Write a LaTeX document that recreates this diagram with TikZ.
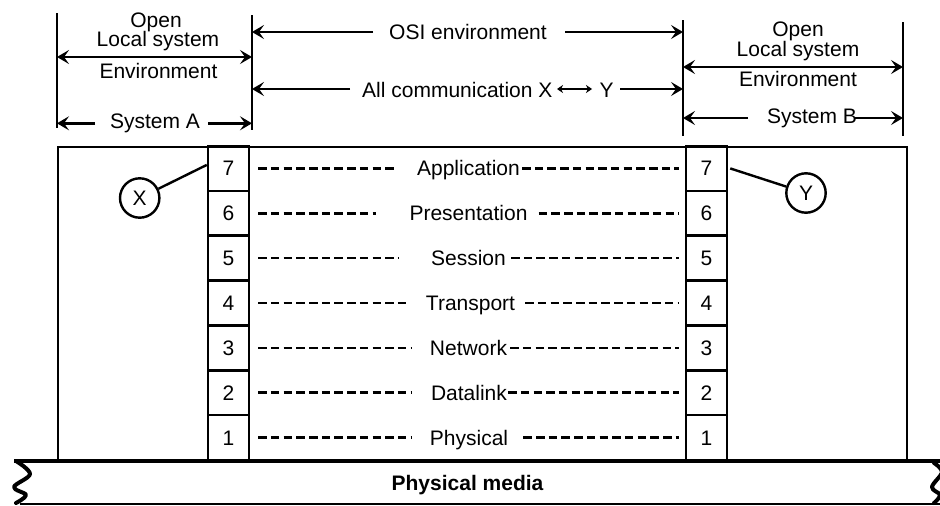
\documentclass[tikz,border=0pt]{standalone}
\usepackage{fontspec}
\setmainfont{Liberation Sans}
\usetikzlibrary{arrows.meta}
\newcommand\myfs{\fontsize{21}{24}\selectfont}
\begin{document}
\begin{tikzpicture}[x=1pt,y=-1pt,font=\myfs,
  >={Stealth[length=12pt,width=14pt,inset=5pt]},
  txt/.style={inner sep=0pt, anchor=base},
  extline/.style={line width=2.6pt},
  dimline/.style={line width=2.4pt},
  cell/.style={draw, line width=2.5pt, minimum width=41pt, minimum height=44.86pt, inner sep=0pt, text height=15pt, text depth=0pt},
  rowlbl/.style={inner sep=0pt, text height=15pt, text depth=0pt},
  dashln/.style={line width=2.5pt, dash pattern=on 8.5pt off 4.2pt},
  circ/.style={circle, draw, line width=2.4pt, minimum size=39.4pt, inner sep=0pt, text height=15pt, text depth=0pt},
  smallarr/.style={line width=2pt, {Stealth[length=6pt,width=8pt,inset=2pt]}-{Stealth[length=6pt,width=8pt,inset=2pt]}},
]
\useasboundingbox (0,0) rectangle (940,506);

% extension lines
\coordinate (a1) at (57,13);  \coordinate (a2) at (57,128);
\coordinate (b1) at (252,15); \coordinate (b2) at (252,130);
\coordinate (c1) at (683,20); \coordinate (c2) at (683,136);
\coordinate (d1) at (903,22); \coordinate (d2) at (903,136);
\draw[extline] (a1) -- (a2);
\draw[extline] (b1) -- (b2);
\draw[extline] (c1) -- (c2);
\draw[extline] (d1) -- (d2);

% left local environment
\node[txt] (openA) at (156,27.5) {Open};
\node[txt] (locA) at (158,46) {Local system};
\node[txt] (envA) at (158.5,78) {Environment};
\coordinate (eaL) at (57,57); \coordinate (eaR) at (252,57);
\draw[dimline,<->] (eaL) -- (eaR);

% System A
\node[txt] (sysA) at (155,128) {System A};
\coordinate (saL) at (57,123.3); \coordinate (saR) at (252,123.3);
\coordinate (sa1) at (95,123.3); \coordinate (sa2) at (208,123.3);
\draw[dimline,->] (sa1) -- (saL);
\draw[dimline,->] (sa2) -- (saR);

% OSI environment
\node[txt] (osi) at (468,39) {OSI environment};
\coordinate (osL) at (252,32); \coordinate (osR) at (683,32);
\coordinate (os1) at (373,32); \coordinate (os2) at (565,32);
\draw[dimline,->] (os1) -- (osL);
\draw[dimline,->] (os2) -- (osR);

% All communication
\node[txt, anchor=base west] (allc) at (362,97) {All communication X};
\node[txt] (ycom) at (606.5,97) {Y};
\coordinate (acL) at (252,89); \coordinate (acR) at (683,89);
\coordinate (ac1) at (350,89); \coordinate (ac2) at (620,89);
\coordinate (sx1) at (557,89); \coordinate (sx2) at (592,89);
\draw[dimline,->] (ac1) -- (acL);
\draw[dimline,->] (ac2) -- (acR);
\draw[smallarr] (sx1) -- (sx2);

% right local environment
\node[txt] (openB) at (798,36.5) {Open};
\node[txt] (locB) at (798,56) {Local system};
\node[txt] (envB) at (798,86) {Environment};
\coordinate (ebL) at (683,67); \coordinate (ebR) at (903,67);
\draw[dimline,<->] (ebL) -- (ebR);

% System B
\node[txt] (sysB) at (812,123) {System B};
\coordinate (sbL) at (683,118); \coordinate (sbR) at (903,118);
\coordinate (sb1) at (748,118); \coordinate (sb2) at (855,118);
\draw[dimline,->] (sb1) -- (sbL);
\draw[dimline,->] (sb2) -- (sbR);

% host box
\node[draw, line width=2.4pt, anchor=north west, minimum width=849pt, minimum height=315pt, inner sep=0pt] (host) at (57,146) {};

% layers
\foreach \n/\t/\c/\gl/\gr in {7/Application/468.5/20/2, 6/Presentation/468.5/33/11, 5/Session/468.5/32/5, 4/Transport/470.5/18/10, 3/Network/468.5/18/3, 2/Datalink/469/19/1, 1/Physical/469/18/15}{
  \pgfmathsetmacro\yy{146+(7.5-\n)*44.857}
  \node[cell] (L\n) at (228.5,\yy) {\n};
  \node[cell] (R\n) at (706.5,\yy) {\n};
  \node[rowlbl] (T\n) at (\c,\yy) {\t};
  \draw[dashln, shorten <=8pt, shorten >=\gl pt] (L\n.east) -- (T\n.west);
  \draw[dashln, shorten <=\gr pt, shorten >=6pt] (T\n.east) -- (R\n.west);
}

% X and Y
\node[circ] (X) at (139.7,198) {X};
\node[circ] (Y) at (806,193) {Y};
\draw[line width=2.4pt] (X) -- ([yshift=3.5pt]L7.west);
\draw[line width=2.4pt] (Y) -- ([xshift=2pt]R7.east);

% physical media
\coordinate (pm1) at (14,461); \coordinate (pm2) at (940,461);
\coordinate (pm3) at (20,504); \coordinate (pm4) at (940,504);
\draw[line width=4.5pt] (pm1) -- (pm2);
\draw[line width=2pt] (pm3) -- (pm4);
\draw[line width=4pt, line cap=round, line join=round] plot[smooth, tension=0.6] coordinates {(16,461) (30,474) (14,487) (26,495) (16,503)};
\draw[line width=4pt, line cap=round, line join=round] plot[smooth, tension=0.6] coordinates {(934,463) (942,472) (932,487) (940,495) (934,503)};
\node[inner sep=0pt, text height=15pt, text depth=0pt, font=\myfs\bfseries] (media) at (467.5,482.5) {Physical media};
\end{tikzpicture}
\end{document}
